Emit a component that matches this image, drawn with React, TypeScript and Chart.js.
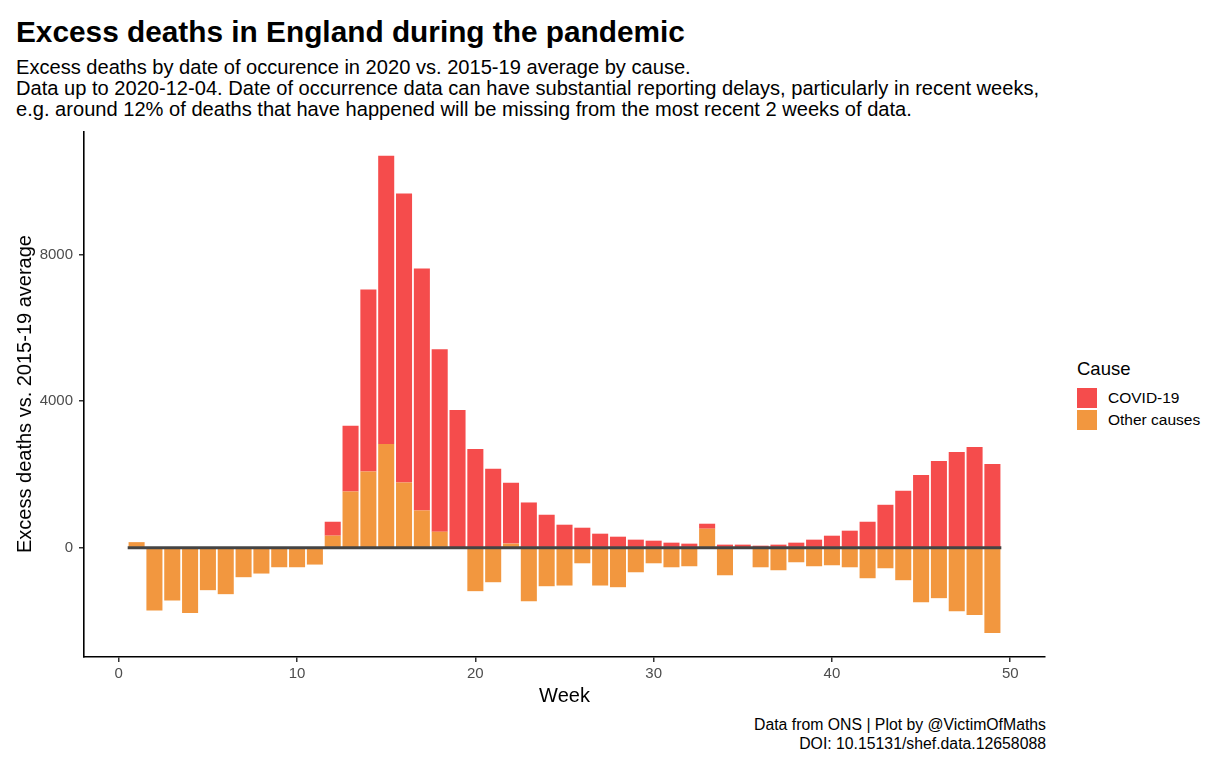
import { useEffect, useRef } from "react";
import { Chart, registerables } from "chart.js";

Chart.register(...registerables);

const weeks = [
  1, 2, 3, 4, 5, 6, 7, 8, 9, 10, 11, 12, 13, 14, 15, 16, 17, 18, 19, 20, 21, 22, 23, 24, 25,
  26, 27, 28, 29, 30, 31, 32, 33, 34, 35, 36, 37, 38, 39, 40, 41, 42, 43, 44, 45, 46, 47, 48, 49,
];

const covidDeaths = [
  0, 0, 0, 0, 0, 0, 0, 0, 0, 0, 0, 380, 1796, 4972, 7864, 7891, 6604, 4980, 3755, 2694, 2150,
  1660, 1233, 898, 626, 544, 381, 299, 218, 190, 136, 109, 136, 82, 82, 54, 82, 136, 218, 326,
  463, 707, 1170, 1551, 1986, 2367, 2612, 2748, 2286,
];

const otherDeaths = [
  150, -1714, -1442, -1787, -1161, -1270, -807, -707, -535, -535, -462, 327, 1532, 2076, 2830,
  1777, 1015, 435, 0, -1188, -944, 110, -1461, -1053, -1034, -427, -1034, -1080, -672, -427,
  -536, -508, 517, -754, 0, -536, -617, -399, -508, -481, -536, -835, -563, -889, -1488, -1379,
  -1733, -1842, -2332,
];

const zeroLineWeeks = [0.5, 49.5];
const xTicks = [0, 10, 20, 30, 40, 50];
const yTicks = [0, 4000, 8000];

const RED = "#f54c4c";
const ORANGE = "#f2973f";
const FONT = "'Liberation Sans', Arial, sans-serif";

function ExcessChart() {
  const canvasRef = useRef<HTMLCanvasElement | null>(null);
  const chartRef = useRef<Chart | null>(null);

  useEffect(() => {
    if (!canvasRef.current) {
      return;
    }
    if (chartRef.current) {
      chartRef.current.destroy();
    }

    const axisGrid = {
      display: true,
      offset: false,
      drawOnChartArea: false,
      drawTicks: true,
      tickLength: 5,
      tickColor: "#333333",
      lineWidth: 1.5,
    };
    const axisBorder = { display: true, color: "#000000", width: 1.6 };
    const tickFont = { family: FONT, size: 15 };

    chartRef.current = new Chart(canvasRef.current, {
      type: "bar",
      data: {
        datasets: [
          {
            type: "line",
            label: "zero",
            data: zeroLineWeeks.map((x) => ({ x, y: 0 })),
            borderColor: "#444444",
            borderWidth: 3,
            pointRadius: 0,
            stack: "zero",
            order: 0,
          },
          {
            type: "bar",
            label: "Other causes",
            data: weeks.map((w, i) => ({ x: w, y: otherDeaths[i] })),
            backgroundColor: ORANGE,
            borderWidth: 0,
            barPercentage: 0.9,
            categoryPercentage: 1,
            order: 1,
          },
          {
            type: "bar",
            label: "COVID-19",
            data: weeks.map((w, i) => ({ x: w, y: covidDeaths[i] })),
            backgroundColor: RED,
            borderWidth: 0,
            barPercentage: 0.9,
            categoryPercentage: 1,
            order: 1,
          },
        ] as any,
      },
      options: {
        responsive: false,
        animation: false,
        layout: { padding: { top: 0, right: 15, left: 0, bottom: 0 } },
        plugins: {
          legend: { display: false },
          tooltip: { enabled: false },
        },
        scales: {
          x: {
            type: "linear",
            min: -1.95,
            max: 51.95,
            offset: false,
            stacked: true,
            grid: axisGrid,
            border: axisBorder,
            ticks: {
              color: "#4d4d4d",
              font: tickFont,
              padding: 3,
              autoSkip: false,
              maxRotation: 0,
              callback: (value: any) => String(value),
            },
            afterBuildTicks: (scale: any) => {
              scale.ticks = xTicks.map((value) => ({ value }));
            },
            afterFit: (scale: any) => {
              scale.height = 33;
            },
          },
          y: {
            type: "linear",
            min: -2985,
            max: 11345,
            stacked: true,
            grid: axisGrid,
            border: axisBorder,
            ticks: {
              color: "#4d4d4d",
              font: tickFont,
              padding: 6,
              callback: (value: any) => String(value),
            },
            afterBuildTicks: (scale: any) => {
              scale.ticks = yTicks.map((value) => ({ value }));
            },
            afterFit: (scale: any) => {
              scale.width = 84;
            },
          },
        },
      },
    });

    return () => {
      chartRef.current?.destroy();
      chartRef.current = null;
    };
  }, []);

  return (
    <canvas
      ref={canvasRef}
      width={1060}
      height={573}
      style={{ position: "absolute", left: 0, top: 117, width: 1060, height: 573 }}
    />
  );
}

export default function App() {
  return (
    <div
      style={{
        position: "relative",
        width: 1231,
        height: 783,
        background: "#ffffff",
        fontFamily: FONT,
        color: "#000000",
        overflow: "hidden",
      }}
    >
      <style>{`body { margin: 0; }`}</style>
      <div
        style={{
          position: "absolute",
          left: 16,
          top: 16.5,
          fontSize: 29.8,
          lineHeight: "30px",
          fontWeight: "bold",
          whiteSpace: "nowrap",
        }}
      >
        Excess deaths in England during the pandemic
      </div>
      <div
        style={{
          position: "absolute",
          left: 16,
          top: 56.5,
          fontSize: 20.1,
          lineHeight: "21px",
          whiteSpace: "nowrap",
        }}
      >
        <div>Excess deaths by date of occurence in 2020 vs. 2015-19 average by cause.</div>
        <div>
          Data up to 2020-12-04. Date of occurrence data can have substantial reporting delays,
          particularly in recent weeks,
        </div>
        <div>
          e.g. around 12% of deaths that have happened will be missing from the most recent 2
          weeks of data.
        </div>
      </div>

      <ExcessChart />

      <div
        style={{
          position: "absolute",
          left: 24,
          top: 394,
          transform: "translate(-50%, -50%) rotate(-90deg)",
          fontSize: 20,
          lineHeight: "20px",
          whiteSpace: "nowrap",
        }}
      >
        Excess deaths vs. 2015-19 average
      </div>
      <div
        style={{
          position: "absolute",
          left: 564.5,
          top: 695,
          transform: "translate(-50%, -50%)",
          fontSize: 20,
          lineHeight: "20px",
          whiteSpace: "nowrap",
        }}
      >
        Week
      </div>

      <div
        style={{
          position: "absolute",
          left: 1077,
          top: 358.5,
          fontSize: 18.5,
          lineHeight: "20px",
          whiteSpace: "nowrap",
        }}
      >
        Cause
      </div>
      {[
        { label: "COVID-19", color: RED, top: 388 },
        { label: "Other causes", color: ORANGE, top: 410 },
      ].map((item) => (
        <div key={item.label}>
          <div
            style={{
              position: "absolute",
              left: 1077,
              top: item.top,
              width: 20,
              height: 20,
              background: item.color,
            }}
          />
          <div
            style={{
              position: "absolute",
              left: 1108,
              top: item.top,
              fontSize: 15.5,
              lineHeight: "20px",
              whiteSpace: "nowrap",
            }}
          >
            {item.label}
          </div>
        </div>
      ))}

      <div
        style={{
          position: "absolute",
          right: 1231 - 1046,
          top: 714.5,
          fontSize: 15.8,
          lineHeight: "19px",
          textAlign: "right",
          whiteSpace: "nowrap",
        }}
      >
        <div>Data from ONS | Plot by @VictimOfMaths</div>
        <div>DOI: 10.15131/shef.data.12658088</div>
      </div>
    </div>
  );
}
